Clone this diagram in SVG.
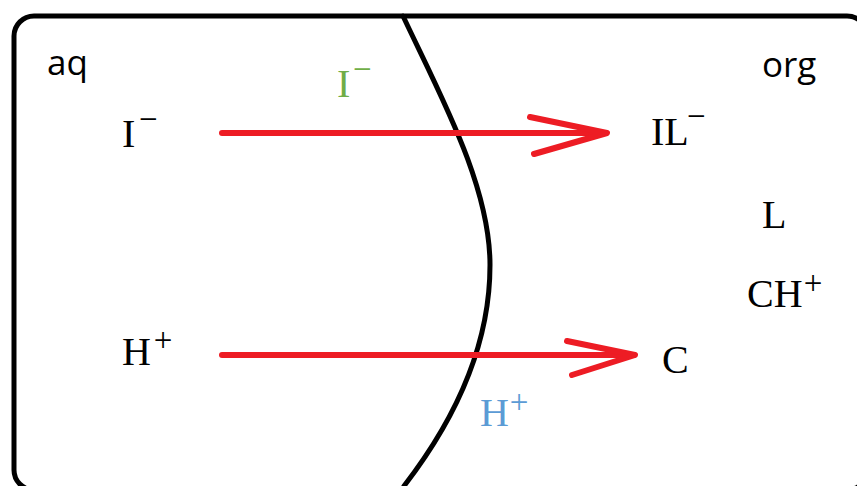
<svg xmlns="http://www.w3.org/2000/svg" width="857" height="486" viewBox="0 0 857 486">
<defs>
<style>
.box{fill:none;stroke:#000;stroke-width:5}
.bound{fill:none;stroke:#000;stroke-width:5;stroke-linecap:round}
.arr{fill:none;stroke:#ED1C24;stroke-width:6;stroke-linecap:round;stroke-linejoin:round}
.s{font-family:"Liberation Serif","DejaVu Serif",serif;font-size:40px;fill:#000}
.sup{font-family:"Liberation Serif","DejaVu Serif",serif;font-size:33px}
.lab{font-family:"Open Sans","Liberation Sans",sans-serif;font-size:35px;fill:#000}
.g{fill:#70AD47}
.b{fill:#5B9BD5}
</style>
</defs>
<rect width="857" height="486" fill="#fff"/>
<g id="container">
<rect class="box" x="14" y="16" width="853" height="474" rx="20"/>
</g>
<g id="interface">
<path class="bound" d="M403 16 C440 95 490 185 490 265 C490 345 455 420 404 486"/>
</g>
<g id="connectors">
<g id="arrow-I">
<path class="arr" d="M222 133 H606"/>
<path class="arr" d="M530 117 L607 133 L534 154"/>
</g>
<g id="arrow-H">
<path class="arr" d="M222 355 H634"/>
<path class="arr" d="M567 341 L635 355 L572 375"/>
</g>
</g>
<g id="label-aq"><text class="lab" x="47" y="75">aq</text></g>
<g id="label-org"><text class="lab" x="762" y="77">org</text></g>
<g id="node-I-aq"><text class="s" x="122" y="147">I</text><text class="sup" x="139" y="130">−</text></g>
<g id="node-I-int"><text class="s g" x="337" y="97">I</text><text class="sup g" x="353" y="80">−</text></g>
<g id="node-IL"><text class="s" x="651" y="145">IL</text><text class="sup" x="687" y="127">−</text></g>
<g id="node-L"><text class="s" x="762" y="228">L</text></g>
<g id="node-CH"><text class="s" x="747" y="307">CH</text><text class="sup" x="813" y="294" text-anchor="middle">+</text></g>
<g id="node-H-aq"><text class="s" x="122" y="365">H</text><text class="sup" x="163" y="351" text-anchor="middle">+</text></g>
<g id="node-C"><text class="s" x="662" y="373">C</text></g>
<g id="node-H-int"><text class="s b" x="480" y="426">H</text><text class="sup b" x="519" y="413" text-anchor="middle">+</text></g>
</svg>
